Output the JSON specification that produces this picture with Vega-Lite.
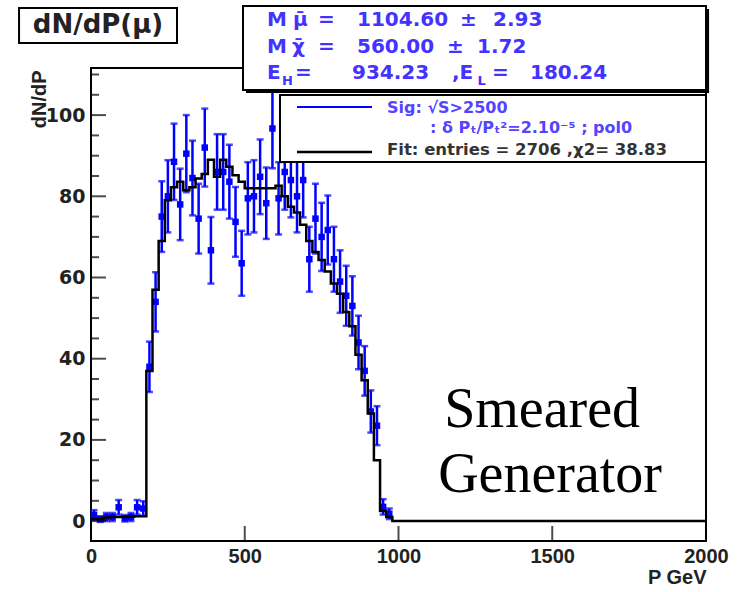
{
  "$schema": "https://vega.github.io/schema/vega-lite/v6.json",
  "width": 615,
  "height": 473,
  "autosize": {"type": "none"},
  "padding": {"left": 91, "top": 68, "right": 43, "bottom": 51},
  "background": "white",
  "config": {
    "numberFormat": "d",
    "view": {"stroke": "#000", "strokeWidth": 2},
    "axis": {"grid": false},
    "axisX": {"ticks": false, "labelPadding": 5, "labelFlush": false, "labelOverlap": false, "labelFont": "Liberation Sans", "labelFontWeight": "bold", "labelFontSize": 20, "labelColor": "#222", "domain": false, "grid": false,
      "titleFont": "Liberation Sans", "titleFontWeight": "bold", "titleFontSize": 20, "titleColor": "#222", "titleAnchor": "end", "titleAlign": "right", "titleBaseline": "middle", "titleX": 615, "titleY": 36}
  },
  "datasets": {
    "hist": [
      {"P": 0, "v": 0.5}, {"P": 20, "v": 0.5}, {"P": 40, "v": 0.9}, {"P": 60, "v": 1.0}, {"P": 80, "v": 1.0},
      {"P": 100, "v": 1.0}, {"P": 120, "v": 1.1}, {"P": 140, "v": 1.2}, {"P": 160, "v": 1.2}, {"P": 180, "v": 37},
      {"P": 200, "v": 57}, {"P": 220, "v": 69}, {"P": 240, "v": 79}, {"P": 260, "v": 82.2}, {"P": 280, "v": 83.6},
      {"P": 300, "v": 81.5}, {"P": 320, "v": 82.2}, {"P": 340, "v": 84.4}, {"P": 360, "v": 85.5}, {"P": 380, "v": 89},
      {"P": 400, "v": 84.8}, {"P": 420, "v": 89}, {"P": 440, "v": 87.3}, {"P": 460, "v": 85.2}, {"P": 480, "v": 83.6},
      {"P": 500, "v": 82}, {"P": 520, "v": 82}, {"P": 540, "v": 82}, {"P": 560, "v": 82}, {"P": 580, "v": 82},
      {"P": 600, "v": 82.6}, {"P": 620, "v": 80}, {"P": 640, "v": 77.4}, {"P": 660, "v": 76}, {"P": 680, "v": 73},
      {"P": 700, "v": 69}, {"P": 720, "v": 66.3}, {"P": 740, "v": 64.3}, {"P": 760, "v": 61.5}, {"P": 780, "v": 58.5},
      {"P": 800, "v": 56}, {"P": 820, "v": 51.5}, {"P": 840, "v": 48}, {"P": 860, "v": 41}, {"P": 880, "v": 34.7},
      {"P": 900, "v": 26.5}, {"P": 920, "v": 15}, {"P": 940, "v": 2.5}, {"P": 960, "v": 1.0}, {"P": 980, "v": 0},
      {"P": 2000, "v": 0}
    ],
    "pts": [
      {"P": 10, "v": 1.5, "e": 1.2}, {"P": 30, "v": 0.5, "e": 0.7}, {"P": 50, "v": 1.0, "e": 1.0}, {"P": 70, "v": 1.0, "e": 1.0},
      {"P": 90, "v": 3.4, "e": 1.8}, {"P": 110, "v": 0.7, "e": 0.8}, {"P": 130, "v": 1.0, "e": 1.0}, {"P": 150, "v": 3.4, "e": 1.8},
      {"P": 170, "v": 3.1, "e": 1.8}, {"P": 190, "v": 38, "e": 6.2}, {"P": 210, "v": 54, "e": 7.3}, {"P": 230, "v": 75, "e": 8.7},
      {"P": 250, "v": 80, "e": 8.9}, {"P": 270, "v": 88.5, "e": 9.4}, {"P": 290, "v": 78, "e": 8.8}, {"P": 310, "v": 90.5, "e": 9.5},
      {"P": 330, "v": 84.5, "e": 9.2}, {"P": 350, "v": 74.5, "e": 8.6}, {"P": 370, "v": 92, "e": 9.6}, {"P": 390, "v": 66.7, "e": 8.2},
      {"P": 410, "v": 86, "e": 9.3}, {"P": 430, "v": 86, "e": 9.3}, {"P": 450, "v": 83.6, "e": 9.1}, {"P": 470, "v": 73.7, "e": 8.6},
      {"P": 490, "v": 63.5, "e": 8.0}, {"P": 510, "v": 79.5, "e": 8.9}, {"P": 530, "v": 80, "e": 8.9}, {"P": 550, "v": 84.8, "e": 9.2},
      {"P": 570, "v": 78.3, "e": 8.8}, {"P": 590, "v": 96.7, "e": 9.8}, {"P": 610, "v": 79.5, "e": 8.9}, {"P": 630, "v": 86, "e": 9.3},
      {"P": 650, "v": 84, "e": 9.2}, {"P": 670, "v": 80, "e": 8.9}, {"P": 690, "v": 84, "e": 9.2}, {"P": 710, "v": 64.5, "e": 8.0},
      {"P": 730, "v": 74.5, "e": 8.6}, {"P": 750, "v": 70, "e": 8.4}, {"P": 770, "v": 71.7, "e": 8.5}, {"P": 790, "v": 64.5, "e": 8.0},
      {"P": 810, "v": 59, "e": 7.7}, {"P": 830, "v": 55.5, "e": 7.4}, {"P": 850, "v": 53, "e": 7.3}, {"P": 870, "v": 44, "e": 6.6},
      {"P": 890, "v": 37, "e": 6.1}, {"P": 910, "v": 27, "e": 5.2}, {"P": 930, "v": 23.5, "e": 4.8}, {"P": 950, "v": 3.5, "e": 1.9},
      {"P": 970, "v": 1.8, "e": 1.3}
    ],
    "ymajor": [{"Y": 0}, {"Y": 20}, {"Y": 40}, {"Y": 60}, {"Y": 80}, {"Y": 100}],
    "yminor": [{"Y": 5}, {"Y": 10}, {"Y": 15}, {"Y": 25}, {"Y": 30}, {"Y": 35}, {"Y": 45}, {"Y": 50}, {"Y": 55}, {"Y": 65}, {"Y": 70}, {"Y": 75}, {"Y": 85}, {"Y": 90}, {"Y": 95}, {"Y": 105}, {"Y": 110}],
    "xmajor": [{"P": 500}, {"P": 1000}, {"P": 1500}]
  },
  "resolve": {"axis": {"y": "independent"}},
  "layer": [
    {
      "data": {"name": "pts"},
      "mark": {"type": "errorbar", "color": "#0000ff", "thickness": 2.5, "ticks": true, "size": 7},
      "encoding": {
        "x": {"field": "P", "type": "quantitative", "title": "P GeV", "scale": {"domain": [0, 2000], "nice": false, "zero": false}, "axis": {"values": [0, 500, 1000, 1500, 2000], "format": "d", "title": "P GeV"}},
        "y": {"field": "v", "type": "quantitative", "scale": {"domain": [-4.9, 111.6], "nice": false, "zero": false}, "axis": null},
        "yError": {"field": "e"}
      }
    },
    {
      "data": {"name": "pts"},
      "mark": {"type": "square", "color": "#0000ff", "filled": true, "size": 42, "opacity": 1},
      "encoding": {
        "x": {"field": "P", "type": "quantitative", "title": "P GeV", "scale": {"domain": [0, 2000], "nice": false, "zero": false}, "axis": {"values": [0, 500, 1000, 1500, 2000], "format": "d", "title": "P GeV"}},
        "y": {"field": "v", "type": "quantitative", "scale": {"domain": [-4.9, 111.6], "nice": false, "zero": false}, "axis": null}
      }
    },
    {
      "data": {"name": "hist"},
      "mark": {"type": "line", "interpolate": "step-after", "color": "#000", "strokeWidth": 2.5},
      "encoding": {
        "x": {"field": "P", "type": "quantitative", "title": "P GeV", "scale": {"domain": [0, 2000], "nice": false, "zero": false}, "axis": {"values": [0, 500, 1000, 1500, 2000], "format": "d", "title": "P GeV"}},
        "y": {"field": "v", "type": "quantitative", "scale": {"domain": [-4.9, 111.6], "nice": false, "zero": false},
          "axis": {"orient": "left", "values": [0, 20, 40, 60, 80, 100], "format": "d", "ticks": false, "labelPadding": 6, "labelFlush": false, "labelOverlap": false, "labelFont": "DejaVu Sans", "labelFontWeight": "bold", "labelFontSize": 19, "labelColor": "#222", "domain": false, "grid": false,
            "title": "dN/dP", "titleFont": "Liberation Sans", "titleFontWeight": "bold", "titleFontSize": 20, "titleColor": "#222", "titleAngle": 270, "titleAlign": "right", "titleBaseline": "middle", "titleX": -52, "titleY": 2}}
      }
    },
    {
      "data": {"name": "ymajor"},
      "mark": {"type": "tick", "color": "#000", "thickness": 2, "size": 15, "orient": "horizontal"},
      "encoding": {
        "x": {"datum": 24.4, "type": "quantitative", "scale": {"domain": [0, 2000], "nice": false, "zero": false}, "axis": {"values": [0, 500, 1000, 1500, 2000], "format": "d", "title": "P GeV"}},
        "y": {"field": "Y", "type": "quantitative", "scale": {"domain": [-4.9, 111.6], "nice": false, "zero": false}, "axis": null}
      }
    },
    {
      "data": {"name": "yminor"},
      "mark": {"type": "tick", "color": "#000", "thickness": 2, "size": 8, "orient": "horizontal"},
      "encoding": {
        "x": {"datum": 13, "type": "quantitative", "scale": {"domain": [0, 2000], "nice": false, "zero": false}, "axis": {"values": [0, 500, 1000, 1500, 2000], "format": "d", "title": "P GeV"}},
        "y": {"field": "Y", "type": "quantitative", "scale": {"domain": [-4.9, 111.6], "nice": false, "zero": false}, "axis": null}
      }
    },
    {
      "data": {"name": "xmajor"},
      "mark": {"type": "tick", "color": "#000", "thickness": 2, "size": 15, "orient": "vertical"},
      "encoding": {
        "x": {"field": "P", "type": "quantitative", "title": "P GeV", "scale": {"domain": [0, 2000], "nice": false, "zero": false}, "axis": {"values": [0, 500, 1000, 1500, 2000], "format": "d", "title": "P GeV"}},
        "y": {"datum": -3.05, "type": "quantitative", "scale": {"domain": [-4.9, 111.6], "nice": false, "zero": false}, "axis": null}
      }
    },
    {
      "data": {"values": [
        {"x1": 504, "x2": 2010, "y1": 126.13, "y2": 105.44}
      ]},
      "mark": {"type": "rect", "fill": "#000", "stroke": null},
      "encoding": {
        "x": {"field": "x1", "type": "quantitative", "title": "P GeV", "scale": {"domain": [0, 2000], "nice": false, "zero": false}, "axis": {"values": [0, 500, 1000, 1500, 2000], "format": "d", "title": "P GeV"}},
        "x2": {"field": "x2"},
        "y": {"field": "y1", "type": "quantitative", "scale": {"domain": [-4.9, 111.6], "nice": false, "zero": false}, "axis": null},
        "y2": {"field": "y2"}
      }
    },
    {
      "data": {"values": [
        {"x1": 494.3, "x2": 2000, "y1": 126.87, "y2": 106.18},
        {"x1": 614.6, "x2": 2000, "y1": 104.95, "y2": 88.45},
        {"x1": -234, "x2": 279.7, "y1": 126.38, "y2": 117.76}
      ]},
      "mark": {"type": "rect", "fill": "#fff", "stroke": "#000", "strokeWidth": 2},
      "encoding": {
        "x": {"field": "x1", "type": "quantitative", "title": "P GeV", "scale": {"domain": [0, 2000], "nice": false, "zero": false}, "axis": {"values": [0, 500, 1000, 1500, 2000], "format": "d", "title": "P GeV"}},
        "x2": {"field": "x2"},
        "y": {"field": "y1", "type": "quantitative", "scale": {"domain": [-4.9, 111.6], "nice": false, "zero": false}, "axis": null},
        "y2": {"field": "y2"}
      }
    },
    {
      "data": {"values": [{"x1": 669.9, "x2": 913.8, "y": 101.99}]},
      "mark": {"type": "rule", "color": "#0000ff", "strokeWidth": 2},
      "encoding": {
        "x": {"field": "x1", "type": "quantitative", "title": "P GeV", "scale": {"domain": [0, 2000], "nice": false, "zero": false}, "axis": {"values": [0, 500, 1000, 1500, 2000], "format": "d", "title": "P GeV"}},
        "x2": {"field": "x2"},
        "y": {"field": "y", "type": "quantitative", "scale": {"domain": [-4.9, 111.6], "nice": false, "zero": false}, "axis": null}
      }
    },
    {
      "data": {"values": [{"x1": 669.9, "x2": 913.8, "y": 90.91}]},
      "mark": {"type": "rule", "color": "#000", "strokeWidth": 2.5},
      "encoding": {
        "x": {"field": "x1", "type": "quantitative", "title": "P GeV", "scale": {"domain": [0, 2000], "nice": false, "zero": false}, "axis": {"values": [0, 500, 1000, 1500, 2000], "format": "d", "title": "P GeV"}},
        "x2": {"field": "x2"},
        "y": {"field": "y", "type": "quantitative", "scale": {"domain": [-4.9, 111.6], "nice": false, "zero": false}, "axis": null}
      }
    },
    {
      "data": {"values": [
        {"P": 572.4, "Y": 123.42, "t": "M"},
        {"P": 656.9, "Y": 123.42, "t": "μ̄"},
        {"P": 738.2, "Y": 123.42, "t": "="},
        {"P": 865.0, "Y": 123.42, "t": "1104.60"},
        {"P": 1200, "Y": 123.42, "t": "±"},
        {"P": 1307.3, "Y": 123.42, "t": "2.93"},
        {"P": 572.4, "Y": 116.77, "t": "M"},
        {"P": 653.7, "Y": 116.77, "t": "χ̄"},
        {"P": 738.2, "Y": 116.77, "t": "="},
        {"P": 865.0, "Y": 116.77, "t": "560.00"},
        {"P": 1157.7, "Y": 116.77, "t": "±"},
        {"P": 1255.3, "Y": 116.77, "t": "1.72"},
        {"P": 572.4, "Y": 110.37, "t": "E"},
        {"P": 663.4, "Y": 110.37, "t": "="},
        {"P": 848.8, "Y": 110.37, "t": "934.23"},
        {"P": 1174, "Y": 110.37, "t": ",E"},
        {"P": 1304, "Y": 110.37, "t": "="},
        {"P": 1427.6, "Y": 110.37, "t": "180.24"}
      ]},
      "mark": {"type": "text", "align": "left", "baseline": "middle", "font": "DejaVu Sans", "fontWeight": "bold", "fontSize": 20, "color": "#4433ff"},
      "encoding": {
        "x": {"field": "P", "type": "quantitative", "title": "P GeV", "scale": {"domain": [0, 2000], "nice": false, "zero": false}, "axis": {"values": [0, 500, 1000, 1500, 2000], "format": "d", "title": "P GeV"}},
        "y": {"field": "Y", "type": "quantitative", "scale": {"domain": [-4.9, 111.6], "nice": false, "zero": false}, "axis": null},
        "text": {"field": "t"}
      }
    },
    {
      "data": {"values": [
        {"P": 621, "Y": 108.4, "t": "H"},
        {"P": 1257, "Y": 108.4, "t": "L"}
      ]},
      "mark": {"type": "text", "align": "left", "baseline": "middle", "font": "DejaVu Sans", "fontWeight": "bold", "fontSize": 13, "color": "#4433ff"},
      "encoding": {
        "x": {"field": "P", "type": "quantitative", "title": "P GeV", "scale": {"domain": [0, 2000], "nice": false, "zero": false}, "axis": {"values": [0, 500, 1000, 1500, 2000], "format": "d", "title": "P GeV"}},
        "y": {"field": "Y", "type": "quantitative", "scale": {"domain": [-4.9, 111.6], "nice": false, "zero": false}, "axis": null},
        "text": {"field": "t"}
      }
    },
    {
      "data": {"values": [
        {"P": 962.6, "Y": 101.75, "t": "Sig: √S>2500"},
        {"P": 1102.4, "Y": 96.82, "t": ": δ Pₜ/Pₜ²=2.10⁻⁵ ; pol0"}
      ]},
      "mark": {"type": "text", "align": "left", "baseline": "middle", "font": "DejaVu Sans", "fontWeight": "bold", "fontSize": 16, "color": "#5544ff"},
      "encoding": {
        "x": {"field": "P", "type": "quantitative", "title": "P GeV", "scale": {"domain": [0, 2000], "nice": false, "zero": false}, "axis": {"values": [0, 500, 1000, 1500, 2000], "format": "d", "title": "P GeV"}},
        "y": {"field": "Y", "type": "quantitative", "scale": {"domain": [-4.9, 111.6], "nice": false, "zero": false}, "axis": null},
        "text": {"field": "t"}
      }
    },
    {
      "data": {"values": [
        {"P": 962.6, "Y": 91.4, "t": "Fit: entries =  2706 ,χ2= 38.83"}
      ]},
      "mark": {"type": "text", "align": "left", "baseline": "middle", "font": "DejaVu Sans", "fontWeight": "bold", "fontSize": 16.5, "color": "#333"},
      "encoding": {
        "x": {"field": "P", "type": "quantitative", "title": "P GeV", "scale": {"domain": [0, 2000], "nice": false, "zero": false}, "axis": {"values": [0, 500, 1000, 1500, 2000], "format": "d", "title": "P GeV"}},
        "y": {"field": "Y", "type": "quantitative", "scale": {"domain": [-4.9, 111.6], "nice": false, "zero": false}, "axis": null},
        "text": {"field": "t"}
      }
    },
    {
      "data": {"values": [
        {"P": 22.8, "Y": 122.19, "t": "dN/dP(μ)"}
      ]},
      "mark": {"type": "text", "align": "center", "baseline": "middle", "font": "DejaVu Sans", "fontWeight": "bold", "fontSize": 26, "color": "#222"},
      "encoding": {
        "x": {"field": "P", "type": "quantitative", "title": "P GeV", "scale": {"domain": [0, 2000], "nice": false, "zero": false}, "axis": {"values": [0, 500, 1000, 1500, 2000], "format": "d", "title": "P GeV"}},
        "y": {"field": "Y", "type": "quantitative", "scale": {"domain": [-4.9, 111.6], "nice": false, "zero": false}, "axis": null},
        "text": {"field": "t"}
      }
    },
    {
      "data": {"values": [
        {"P": 1467, "Y": 23.2, "t": "Smeared"},
        {"P": 1493, "Y": 7.2, "t": "Generator"}
      ]},
      "mark": {"type": "text", "align": "center", "baseline": "alphabetic", "font": "Liberation Serif", "fontSize": 56, "color": "#000"},
      "encoding": {
        "x": {"field": "P", "type": "quantitative", "title": "P GeV", "scale": {"domain": [0, 2000], "nice": false, "zero": false}, "axis": {"values": [0, 500, 1000, 1500, 2000], "format": "d", "title": "P GeV"}},
        "y": {"field": "Y", "type": "quantitative", "scale": {"domain": [-4.9, 111.6], "nice": false, "zero": false}, "axis": null},
        "text": {"field": "t"}
      }
    }
  ]
}
